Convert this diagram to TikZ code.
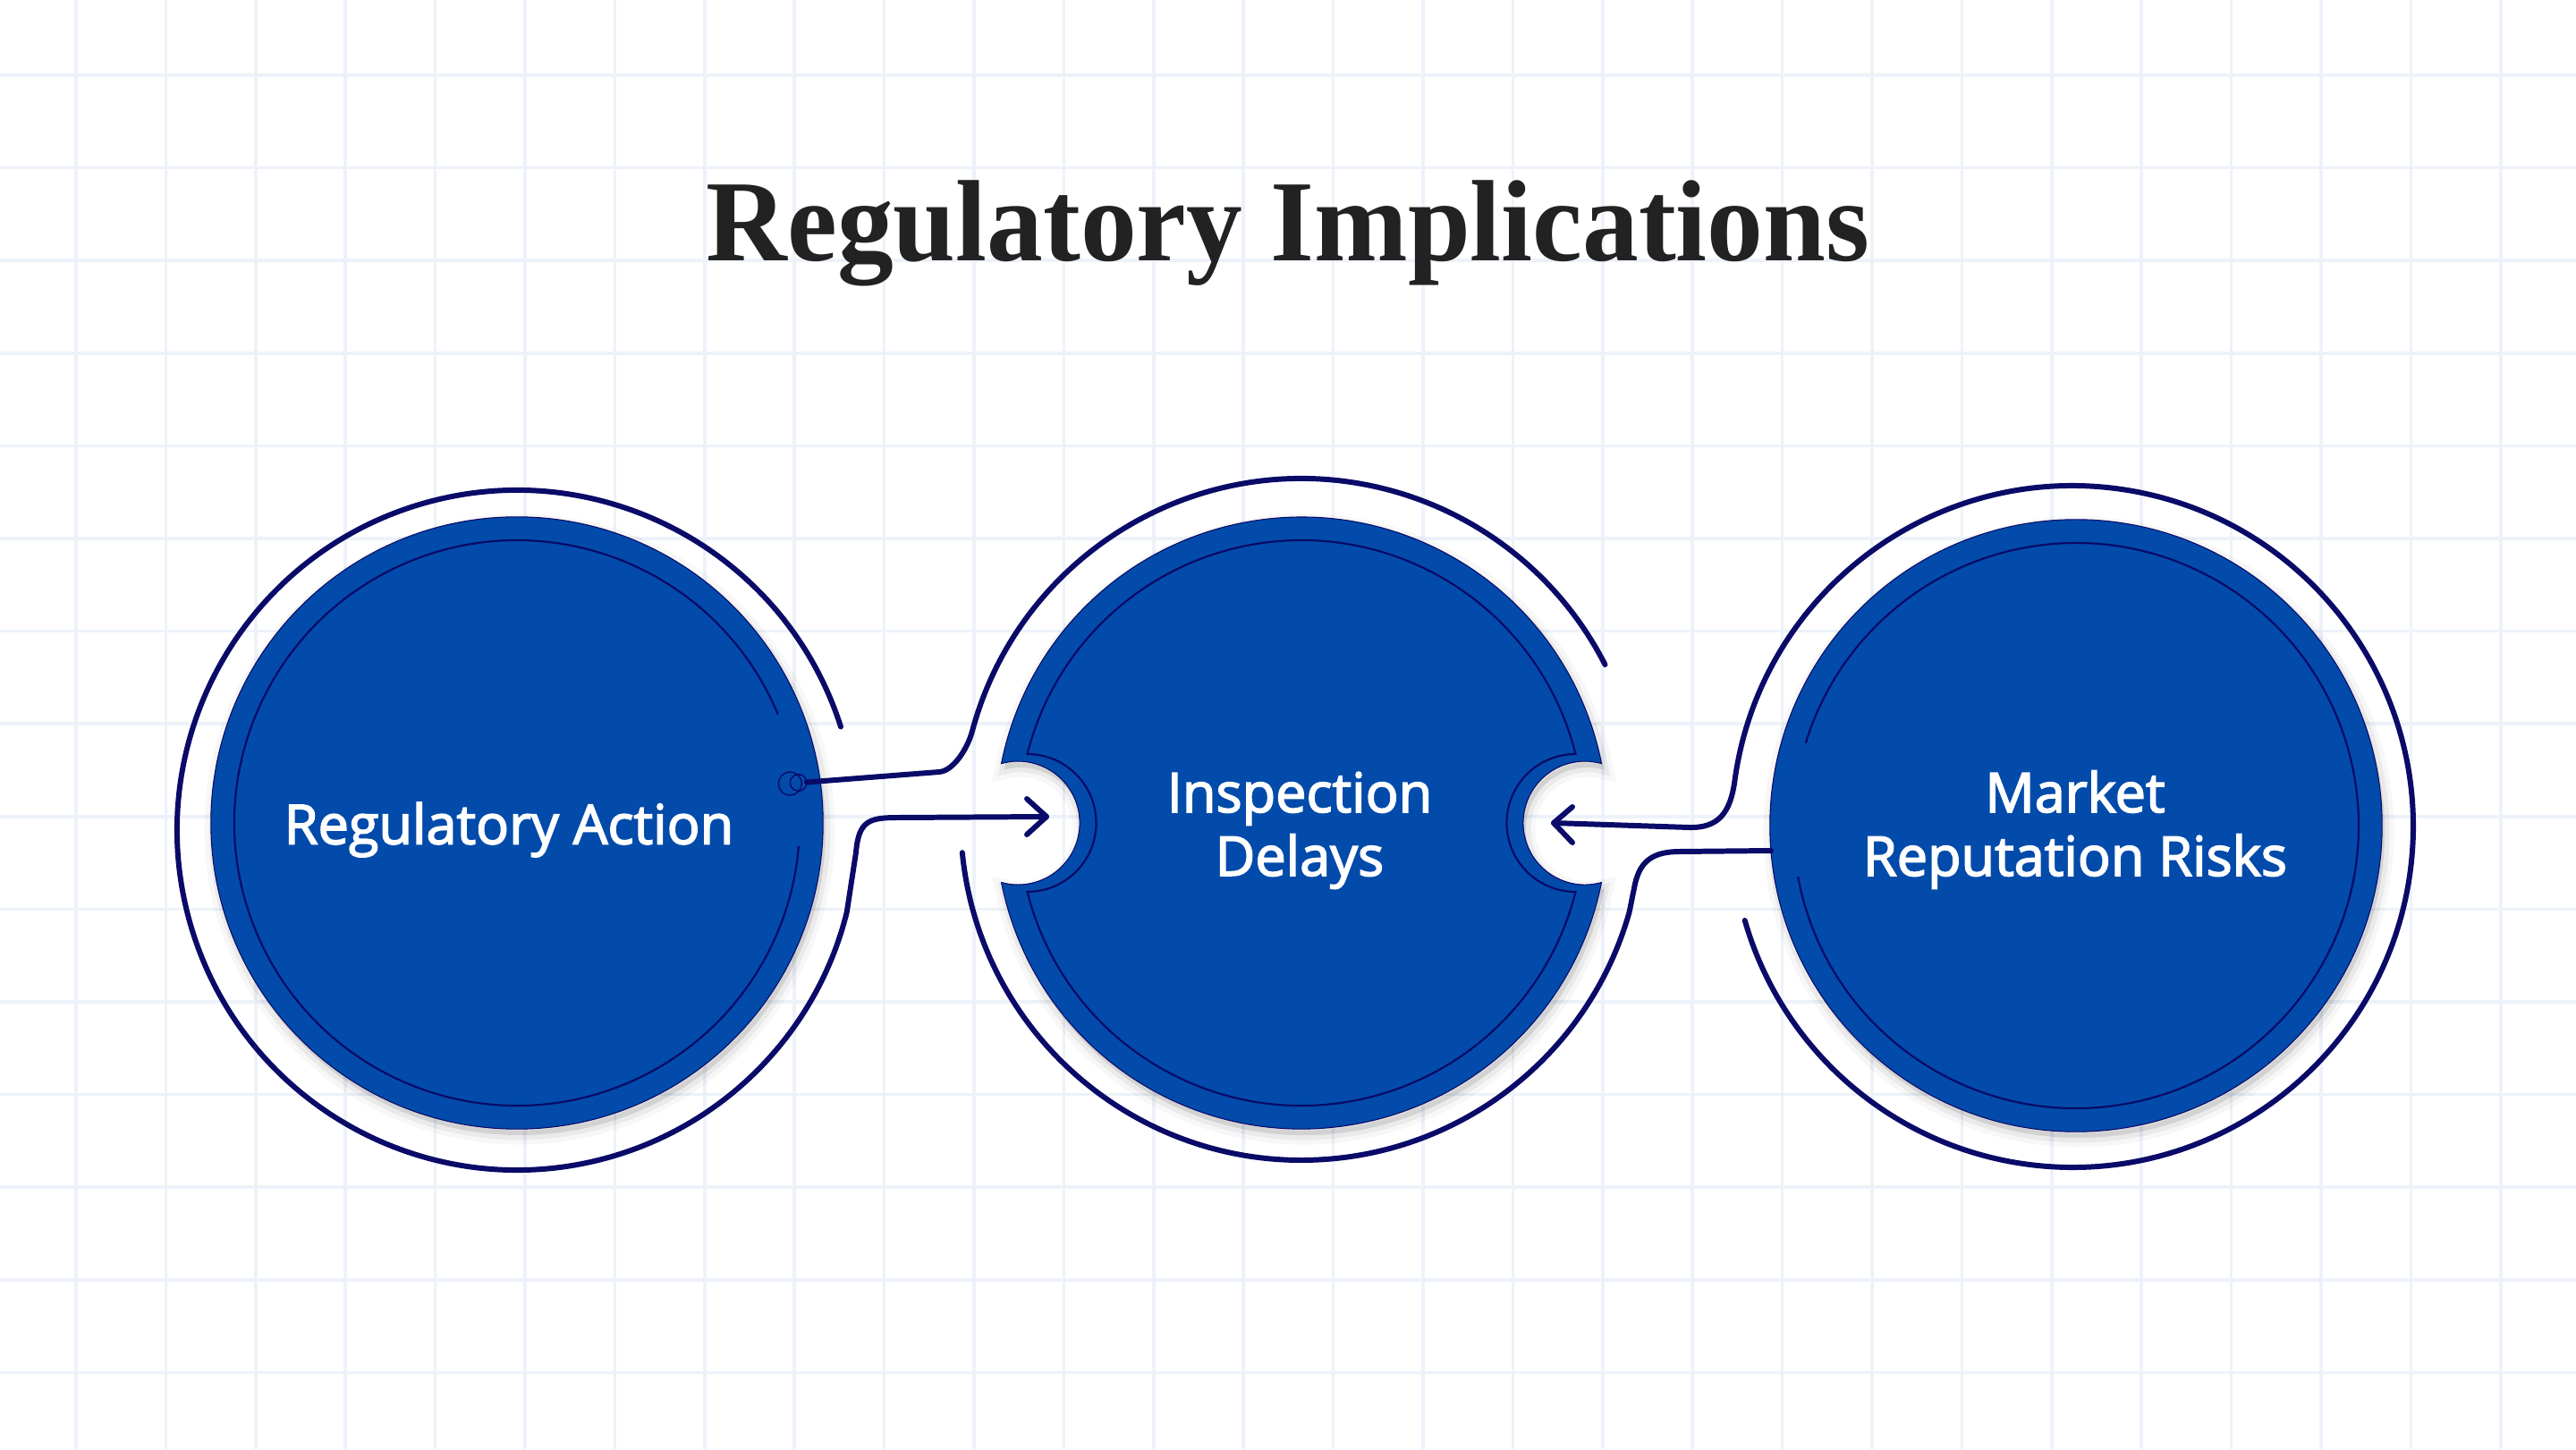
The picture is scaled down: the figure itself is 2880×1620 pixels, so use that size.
\documentclass[tikz,border=0pt]{standalone}
\usepackage{fontspec}
\setmainfont{Liberation Serif}
\newfontfamily\titlefont[FakeStretch=0.97]{Liberation Serif}
\newfontfamily\labelfont[FakeBold=2.6]{Open Sans}
\definecolor{gridc}{HTML}{EDF2FA}
\definecolor{fillblue}{HTML}{024BAA}
\definecolor{navy}{HTML}{0A0A68}
\definecolor{titlec}{HTML}{222222}
\newcommand\softshadow[1]{%
  \begin{scope}[shift={(3,-7)}]
    \fill[black, opacity=0.10] #1;
    \draw[black, opacity=0.05, line width=3pt] #1;
    \draw[black, opacity=0.03, line width=6pt] #1;
  \end{scope}}
\newcommand\diskBpath{(1790.5,766.4) arc[start angle=11.2, end angle=168.8, radius=342] arc[start angle=105.6, end angle=-105.6, radius=69] arc[start angle=191.2, end angle=348.8, radius=342] arc[start angle=285.6, end angle=74.4, radius=69] -- cycle}
\begin{document}
\begin{tikzpicture}[x=0.01cm, y=0.01cm,
  ring/.style={draw=navy, line width=1.7pt, line cap=round, line join=round},
  thinring/.style={draw=navy, line width=0.62pt},
  disk/.style={circle, fill=fillblue, draw=navy, line width=0.3pt, minimum size=6.84cm, inner sep=0pt},
  lbl/.style={text=white, font=\labelfont\fontsize{17.4pt}{20.2pt}\selectfont, align=center, inner sep=0pt},
  barb/.style={draw=navy, line width=1.7pt, line cap=round, line join=round},
  gridline/.style={draw=gridc, line width=1pt}]
\fill[white] (0,0) rectangle (2880,1620);
\useasboundingbox (0,0) rectangle (2880,1620);
% grid
\foreach \i in {0,...,27} \draw[gridline] ({85+100.4*\i},0) -- ({85+100.4*\i},1620);
\foreach \j in {0,...,14} \draw[gridline] (0,{1536-103.6*\j}) -- (2880,{1536-103.6*\j});
% title
\node[anchor=base, font=\titlefont\bfseries\fontsize{36.8pt}{40pt}\selectfont, text=titlec, inner sep=0pt] (title) at (1440,1328) {Regulatory Implications};
% shadows
\softshadow{(578,700) circle[radius=342]}
\softshadow{\diskBpath}
\softshadow{(2321,697) circle[radius=342]}
% disks
\node[disk] (c1) at (578,700) {};
\fill[fillblue, draw=navy, line width=0.3pt] \diskBpath;
\node[disk] (c3) at (2321,697) {};
% inner lines
\draw[thinring] ([shift={(22.6:316)}]578,700) arc[start angle=22.6, end angle=355.3, radius=316];
\draw[thinring] (1761.5,777) arc[start angle=14.1, end angle=165.9, radius=316] arc[start angle=90, end angle=-90, radius=77] arc[start angle=194.1, end angle=345.9, radius=316] arc[start angle=270, end angle=90, radius=77] -- cycle;
\draw[thinring] ([shift={(-169.6:316)}]2321,697) arc[start angle=-169.6, end angle=163, radius=316];
% small double ring on disk 1
\coordinate (s1) at (883.3,744);
\coordinate (s2) at (892.7,745);
\draw[navy, line width=0.4pt] (s1) circle[radius=13];
\draw[navy, line width=0.4pt] (s2) circle[radius=9.3];
% arrow tips
\coordinate (tipA) at (1170,707);
\coordinate (tipB) at (1737,700);
% ring of disk 1 -> arrow into disk 2
\draw[ring] ([shift={(17.7:380)}]578,692) arc[start angle=17.7, end angle=346, radius=380] -- (957,667) .. controls (960,703) and (972,706) .. (1005,706) -- (tipA);
\draw[barb] (1148,727) -- (tipA) -- (1148,687);
% connector from small ring into upper ring of disk 2
\draw[ring] (902,745.5) -- (1050,757) .. controls (1066,758.2) and (1081.8,783.3) .. ([shift={(165:381)}]1455,704) arc[start angle=165, end angle=27, radius=381];
% lower ring of disk 2 -> disk 3
\draw[ring] ([shift={(185.6:381)}]1455,704) arc[start angle=185.6, end angle=344.2, radius=381] -- (1827,627) .. controls (1832,655) and (1845,668) .. (1878,668) -- (1980,669);
% ring of disk 3 -> arrow into disk 2
\draw[ring] (tipB) -- (1888,695) .. controls (1922,694) and (1935,712) .. ([shift={(172:381)}]2317,696) arc[start angle=172, end angle=-164, radius=381];
\draw[barb] (1758,718) -- (tipB) -- (1758,678);
% labels (base = baseline of the last line)
\node[lbl, anchor=base] (t1) at (569,676.5) {Regulatory Action};
\node[lbl, anchor=base] (t2) at (1453,641) {Inspection\\Delays};
\node[lbl, anchor=base] (t3) at (2320,641) {Market\\Reputation Risks};
\end{tikzpicture}
\end{document}
